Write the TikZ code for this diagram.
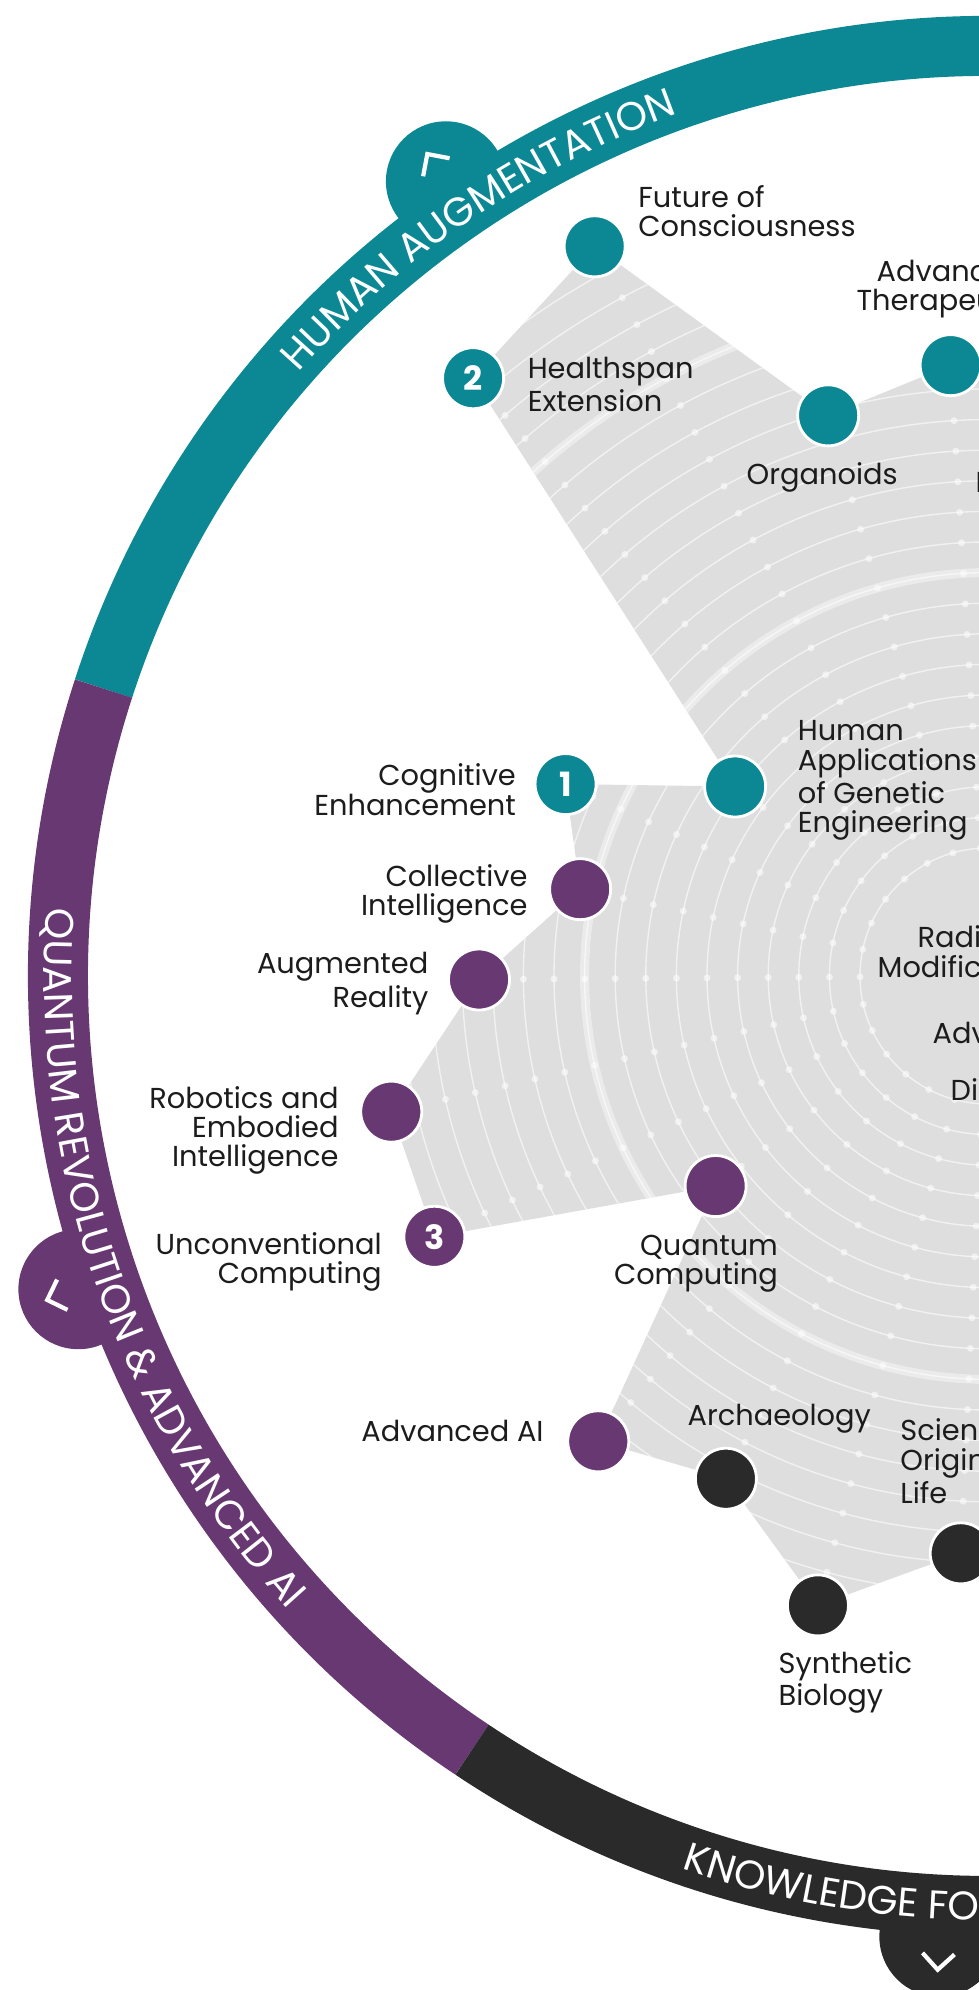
\documentclass[tikz,border=0pt]{standalone}
\usepackage{fontspec}
\setmainfont{Poppins}
\usetikzlibrary{decorations.text}

\definecolor{haTeal}{RGB}{11,136,147}
\definecolor{qrPurple}{RGB}{104,56,114}
\definecolor{kfDark}{RGB}{42,42,42}
\definecolor{radarGray}{RGB}{222,222,222}
\definecolor{lblText}{RGB}{28,28,28}

\tikzset{
  topic/.style={circle, minimum size=0.61cm, inner sep=0pt, draw=white, line width=0.8pt, text=white, font=\fontsize{9.5}{10}\selectfont\bfseries},
  ha/.style={topic, fill=haTeal},
  qr/.style={topic, fill=qrPurple},
  kf/.style={topic, fill=kfDark},
  lbl/.style={inner sep=0pt, text=lblText, font=\fontsize{8.2}{8.3}\selectfont},
  ringline/.style={white, opacity=0.6, line width=0.4pt},
  band/.style={line width=0.6cm},
  chev/.style={white, line width=1.2pt},
  ringtext/.style={decorate, decoration={text along path, text align=center, text={|\fontsize{11.4}{12}\selectfont\color{white}|#1}}}
}

\begin{document}
\begin{tikzpicture}[x=0.01cm, y=0.01cm]
\useasboundingbox (0,0) rectangle (979,1990);
\clip (0,0) rectangle (979,1990);
\fill[white] (0,0) rectangle (979,1990);
\coordinate (c) at (988,1014);

% radar vertices
\foreach \r [count=\i from 0] in {560,612,583,829,789,316,464,417,509,612,612,344,607,567,652,578,560}
  \coordinate (p\i) at ([shift={({81.086+12.4138*\i}:\r)}]c);

\fill[radarGray] (p0) \foreach \i in {1,...,16} {-- (p\i)} -- (c) -- cycle;

\begin{scope}
  \clip (p0) \foreach \i in {1,...,16} {-- (p\i)} -- (c) -- cycle;
  \foreach \k in {0,...,24}
    \draw[ringline] (c) circle[radius={128+30.6*\k}];
  \foreach \k in {9,18}
    \draw[white, opacity=0.4, line width=0.09cm] (c) circle[radius={128+30.6*\k}];
  \foreach \k in {0,...,24}
    \foreach \i in {0,...,16}
      \fill[white, opacity=0.55] ([shift={({81.086+12.4138*\i}:{128+30.6*\k})}]c) circle[radius=3.5];
\end{scope}

% outer ring
\draw[band, haTeal] ([shift={(80:930)}]c) arc[start angle=80, end angle=162, radius=930];
\draw[band, qrPurple] ([shift={(162:930)}]c) arc[start angle=162, end angle=236.3, radius=930];
\draw[band, kfDark] ([shift={(236.3:930)}]c) arc[start angle=236.3, end angle=300, radius=930];

\fill[haTeal] ([shift={(124.3:962)}]c) circle[radius=60];
\fill[qrPurple] ([shift={(199:962)}]c) circle[radius=60];
\fill[kfDark] ([shift={(267.1:962)}]c) circle[radius=60];

\foreach \a in {124.3,199,267.1}
  \draw[chev, shift={(c)}, rotate=\a] (979,16) -- (995,0) -- (979,-16);

\path[ringtext={HUMAN AUGMENTATION}] ([shift={(154.3:916)}]c) arc[start angle=154.3, end angle=94.3, radius=916];
\path[ringtext={QUANTUM REVOLUTION {\&} ADVANCED AI}] ([shift={(169:944)}]c) arc[start angle=169, end angle=229, radius=944];
\path[ringtext={KNOWLEDGE FOUNDATIONS}] ([shift={(237.1:944)}]c) arc[start angle=237.1, end angle=297.1, radius=944];

% topics
\node[ha] (at) at (p1) {};
\node[ha] (org) at (p2) {};
\node[ha] (fc) at (p3) {};
\node[ha] (hs) at (p4) {2};
\node[ha] (hage) at (p5) {};
\node[ha] (cog) at (p6) {1};
\node[qr] (coll) at (p7) {};
\node[qr] (ar) at (p8) {};
\node[qr] (rob) at (p9) {};
\node[qr] (uc) at (p10) {3};
\node[qr] (qc) at (p11) {};
\node[qr] (ai) at (p12) {};
\node[kf] (arch) at (p13) {};
\node[kf] (sb) at (p14) {};
\node[kf] (ool) at (p15) {};

% labels
\node[lbl, anchor=west, align=left] at ([shift={(43,35.5)}]fc.center) {Future of\\Consciousness};
\node[lbl, anchor=west, align=left] at ([shift={(54,-6.5)}]hs.center) {Healthspan\\Extension};
\node[lbl] at ([shift={(-6,-62)}]org.center) {Organoids};
\node[lbl, align=center] at ([shift={(0,76)}]at.center) {Advanced\\Therapeutics};
\node[lbl, anchor=west, align=left] at ([shift={(62,6)}]hage.center) {Human\\Applications\\of Genetic\\Engineering};
\node[lbl, anchor=east, align=right] at ([shift={(-49,-5.5)}]cog.center) {Cognitive\\Enhancement};
\node[lbl, anchor=east, align=right] at ([shift={(-52,-5)}]coll.center) {Collective\\Intelligence};
\node[lbl, anchor=east, align=right] at ([shift={(-50,-4)}]ar.center) {Augmented\\Reality};
\node[lbl, anchor=east, align=right] at ([shift={(-52,-19)}]rob.center) {Robotics and\\Embodied\\Intelligence};
\node[lbl, anchor=east, align=right] at ([shift={(-52,-25)}]uc.center) {Unconventional\\Computing};
\node[lbl, anchor=east, align=right] at ([shift={(63,-77.5)}]qc.center) {Quantum\\Computing};
\node[lbl, anchor=east] at ([shift={(-54,10)}]ai.center) {Advanced AI};
\node[lbl, anchor=west] at ([shift={(-39,60)}]arch.center) {Archaeology};
\node[lbl, anchor=west, align=left] at ([shift={(-40,-77)}]sb.center) {Synthetic\\Biology};
\node[lbl, anchor=west, align=left] at ([shift={(-61,92)}]ool.center) {Science of the\\Origin of\\Life};

% labels cut by the right edge
\node[lbl, anchor=west] at (975,1508) {P};
\node[lbl, anchor=west] at (917,1053) {Radi};
\node[lbl, anchor=west] at (877,1023) {Modific};
\node[lbl, anchor=west] at (932,957) {Adv};
\node[lbl, anchor=west] at (950,900) {Di};
\end{tikzpicture}
\end{document}
